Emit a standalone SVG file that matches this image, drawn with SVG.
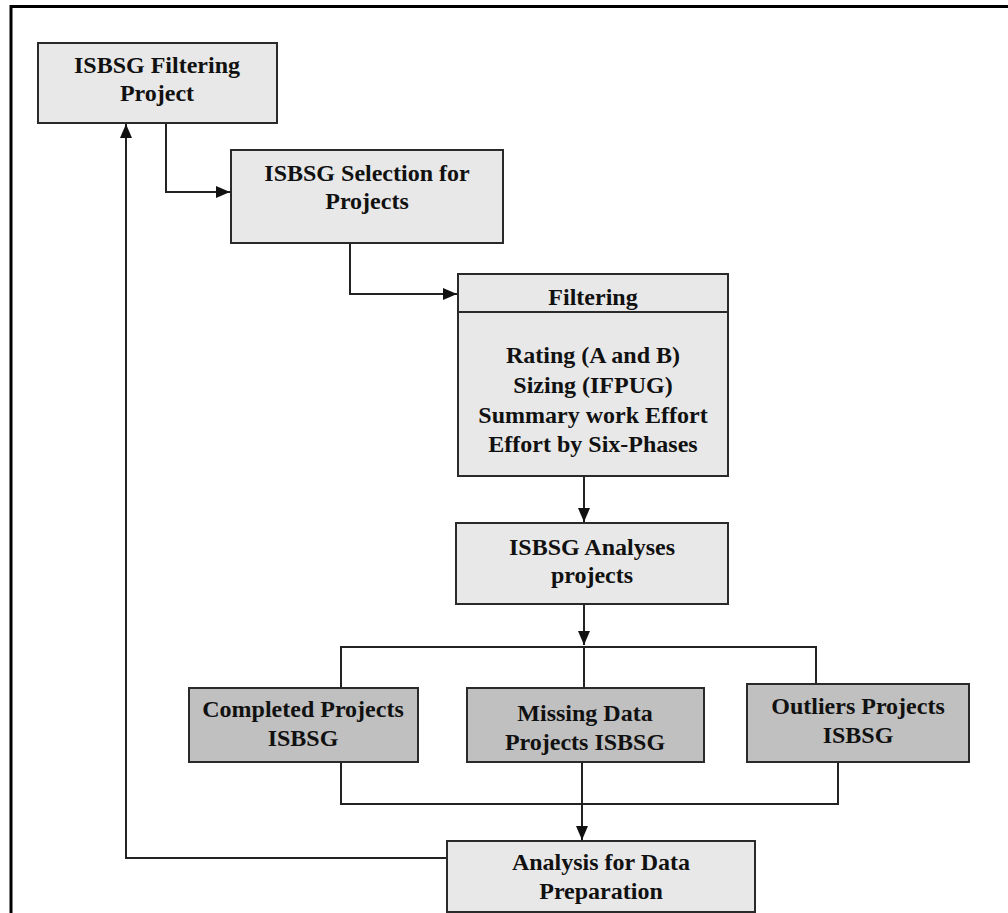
<svg xmlns="http://www.w3.org/2000/svg" width="1008" height="913" viewBox="0 0 1008 913">
<style>
.box{fill:#e8e8e8;stroke:#2a2a2a;stroke-width:2}
.dark{fill:#c0c0c0;stroke:#2a2a2a;stroke-width:2}
.t{font-family:"Liberation Serif","Times New Roman",serif;font-weight:bold;font-size:24px;fill:#111;text-anchor:middle}
.c{fill:none;stroke:#222;stroke-width:2}
</style>
<defs>
<marker id="ah" markerUnits="userSpaceOnUse" markerWidth="14" markerHeight="12" refX="14" refY="6" orient="auto">
<path d="M0,0 L14,6 L0,12 z" fill="#111"/>
</marker>
</defs>
<rect width="1008" height="913" fill="#fff"/>
<g id="frame">
<path d="M11,913 V6.5 H1008" fill="none" stroke="#000" stroke-width="3"/>
</g>
<g id="connectors">
<path class="c" d="M166,123 V192 H230" marker-end="url(#ah)"/>
<path class="c" d="M350,243 V294 H457" marker-end="url(#ah)"/>
<path class="c" d="M584,477 V522" marker-end="url(#ah)"/>
<path class="c" d="M584,605 V645" marker-end="url(#ah)"/>
<path class="c" d="M341,688 V647 H816 V684"/>
<path class="c" d="M584,647 V688"/>
<path class="c" d="M341,763 V804 H838 V763"/>
<path class="c" d="M582,763 V840" marker-end="url(#ah)"/>
<path class="c" d="M447,858 H126 V124" marker-end="url(#ah)"/>
</g>
<g id="n1">
<rect class="box" x="38" y="43" width="239" height="80"/>
<text class="t" x="157" y="72.5">ISBSG Filtering</text>
<text class="t" x="157" y="101">Project</text>
</g>
<g id="n2">
<rect class="box" x="231" y="150" width="272" height="93"/>
<text class="t" x="367" y="181">ISBSG Selection for</text>
<text class="t" x="367" y="209">Projects</text>
</g>
<g id="n3">
<rect class="box" x="458" y="274" width="270" height="202"/>
<line x1="458" y1="312" x2="728" y2="312" stroke="#2a2a2a" stroke-width="2"/>
<text class="t" x="593" y="305">Filtering</text>
<text class="t" x="593" y="363">Rating (A and B)</text>
<text class="t" x="593" y="393">Sizing (IFPUG)</text>
<text class="t" x="593" y="422.5">Summary work Effort</text>
<text class="t" x="593" y="452">Effort by Six-Phases</text>
</g>
<g id="n4">
<rect class="box" x="456" y="523" width="272" height="81"/>
<text class="t" x="592" y="555">ISBSG Analyses</text>
<text class="t" x="592" y="583">projects</text>
</g>
<g id="n5">
<rect class="dark" x="189" y="688" width="229" height="74"/>
<text class="t" x="303" y="717">Completed Projects</text>
<text class="t" x="303" y="746">ISBSG</text>
</g>
<g id="n6">
<rect class="dark" x="467" y="688" width="237" height="74"/>
<text class="t" x="585" y="721">Missing Data</text>
<text class="t" x="585" y="750">Projects ISBSG</text>
</g>
<g id="n7">
<rect class="dark" x="747" y="684" width="222" height="78"/>
<text class="t" x="858" y="714">Outliers Projects</text>
<text class="t" x="858" y="743">ISBSG</text>
</g>
<g id="n8">
<rect class="box" x="447" y="841" width="308" height="71"/>
<text class="t" x="601" y="870">Analysis for Data</text>
<text class="t" x="601" y="899">Preparation</text>
</g>
</svg>
